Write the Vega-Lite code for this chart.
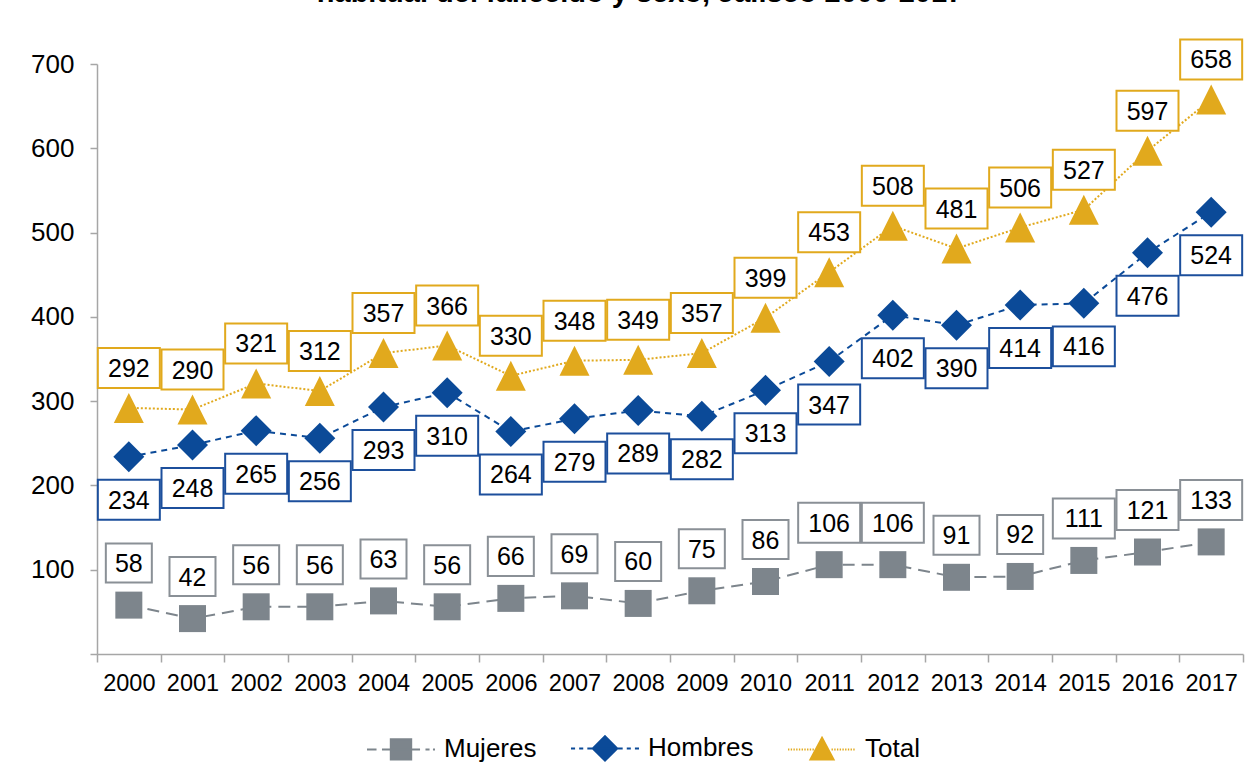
{
  "$schema": "https://vega.github.io/schema/vega-lite/v6.json",
  "width": 1146,
  "height": 590,
  "autosize": {"type": "none"},
  "padding": {"left": 97, "top": 64, "right": 13, "bottom": 127},
  "background": "white",
  "title": {
    "text": "habitual del fallecido y sexo, Jalisco 2000-2017",
    "frame": "group",
    "anchor": "middle",
    "baseline": "alphabetic",
    "offset": 31,
    "dx": -30,
    "dy": 27,
    "fontSize": 29,
    "fontWeight": "bold",
    "color": "black",
    "font": "Liberation Sans"
  },
  "config": {
    "font": "Liberation Sans",
    "view": {"stroke": null},
    "legend": {
      "orient": "none",
      "legendX": 269,
      "legendY": 649,
      "direction": "horizontal",
      "padding": 0,
      "symbolSize": 4624,
      "symbolStrokeWidth": 2,
      "symbolOpacity": 1,
      "labelFontSize": 26,
      "labelColor": "black",
      "labelOffset": 8,
      "columnPadding": 30,
      "labelLimit": 300
    }
  },
  "data": {
    "values": [
      {"year": "2000", "s": "Mujeres", "v": 58},
      {"year": "2001", "s": "Mujeres", "v": 42},
      {"year": "2002", "s": "Mujeres", "v": 56},
      {"year": "2003", "s": "Mujeres", "v": 56},
      {"year": "2004", "s": "Mujeres", "v": 63},
      {"year": "2005", "s": "Mujeres", "v": 56},
      {"year": "2006", "s": "Mujeres", "v": 66},
      {"year": "2007", "s": "Mujeres", "v": 69},
      {"year": "2008", "s": "Mujeres", "v": 60},
      {"year": "2009", "s": "Mujeres", "v": 75},
      {"year": "2010", "s": "Mujeres", "v": 86},
      {"year": "2011", "s": "Mujeres", "v": 106},
      {"year": "2012", "s": "Mujeres", "v": 106},
      {"year": "2013", "s": "Mujeres", "v": 91},
      {"year": "2014", "s": "Mujeres", "v": 92},
      {"year": "2015", "s": "Mujeres", "v": 111},
      {"year": "2016", "s": "Mujeres", "v": 121},
      {"year": "2017", "s": "Mujeres", "v": 133},
      {"year": "2000", "s": "Hombres", "v": 234},
      {"year": "2001", "s": "Hombres", "v": 248},
      {"year": "2002", "s": "Hombres", "v": 265},
      {"year": "2003", "s": "Hombres", "v": 256},
      {"year": "2004", "s": "Hombres", "v": 293},
      {"year": "2005", "s": "Hombres", "v": 310},
      {"year": "2006", "s": "Hombres", "v": 264},
      {"year": "2007", "s": "Hombres", "v": 279},
      {"year": "2008", "s": "Hombres", "v": 289},
      {"year": "2009", "s": "Hombres", "v": 282},
      {"year": "2010", "s": "Hombres", "v": 313},
      {"year": "2011", "s": "Hombres", "v": 347},
      {"year": "2012", "s": "Hombres", "v": 402},
      {"year": "2013", "s": "Hombres", "v": 390},
      {"year": "2014", "s": "Hombres", "v": 414},
      {"year": "2015", "s": "Hombres", "v": 416},
      {"year": "2016", "s": "Hombres", "v": 476},
      {"year": "2017", "s": "Hombres", "v": 524},
      {"year": "2000", "s": "Total", "v": 292},
      {"year": "2001", "s": "Total", "v": 290},
      {"year": "2002", "s": "Total", "v": 321},
      {"year": "2003", "s": "Total", "v": 312},
      {"year": "2004", "s": "Total", "v": 357},
      {"year": "2005", "s": "Total", "v": 366},
      {"year": "2006", "s": "Total", "v": 330},
      {"year": "2007", "s": "Total", "v": 348},
      {"year": "2008", "s": "Total", "v": 349},
      {"year": "2009", "s": "Total", "v": 357},
      {"year": "2010", "s": "Total", "v": 399},
      {"year": "2011", "s": "Total", "v": 453},
      {"year": "2012", "s": "Total", "v": 508},
      {"year": "2013", "s": "Total", "v": 481},
      {"year": "2014", "s": "Total", "v": 506},
      {"year": "2015", "s": "Total", "v": 527},
      {"year": "2016", "s": "Total", "v": 597},
      {"year": "2017", "s": "Total", "v": 658}
    ]
  },
  "encoding": {
    "x": {
      "field": "year",
      "type": "ordinal",
      "scale": {"type": "band", "paddingInner": 0, "paddingOuter": 0},
      "axis": {
        "title": null,
        "labelAngle": 0,
        "labelFontSize": 23.5,
        "labelColor": "black",
        "labelPadding": 9,
        "tickBand": "extent",
        "tickSize": 8,
        "tickColor": "#a6a6a6",
        "tickWidth": 1.5,
        "domainColor": "#a6a6a6",
        "domainWidth": 1.5
      }
    },
    "y": {
      "field": "v",
      "type": "quantitative",
      "scale": {"domain": [0, 700], "nice": false},
      "axis": {
        "title": null,
        "grid": false,
        "values": [0, 100, 200, 300, 400, 500, 600, 700],
        "labelExpr": "datum.value == 0 ? '' : datum.label",
        "labelFontSize": 26,
        "labelColor": "black",
        "labelPadding": 16,
        "tickSize": 7,
        "tickColor": "#a6a6a6",
        "tickWidth": 1.5,
        "domainColor": "#a6a6a6",
        "domainWidth": 1.5
      }
    }
  },
  "layer": [
    {
      "transform": [{"filter": "datum.s == 'Mujeres'"}],
      "mark": {"type": "line", "color": "#7d858c", "strokeWidth": 2, "strokeDash": [12, 7]}
    },
    {
      "transform": [{"filter": "datum.s == 'Hombres'"}],
      "mark": {"type": "line", "color": "#0b4a98", "strokeWidth": 2, "strokeDash": [6, 5]}
    },
    {
      "transform": [{"filter": "datum.s == 'Total'"}],
      "mark": {"type": "line", "color": "#e1a91d", "strokeWidth": 2, "strokeDash": [2, 2]}
    },
    {
      "transform": [{"filter": "datum.s == 'Mujeres'"}],
      "mark": {"type": "point", "shape": "square", "filled": true, "opacity": 1, "color": "#7d858c", "size": 729}
    },
    {
      "transform": [{"filter": "datum.s == 'Hombres'"}],
      "mark": {"type": "point", "shape": "diamond", "filled": true, "opacity": 1, "color": "#0b4a98", "size": 961}
    },
    {
      "transform": [{"filter": "datum.s == 'Total'"}],
      "mark": {"type": "point", "shape": "M0,-1L1,1L-1,1Z", "filled": true, "opacity": 1, "color": "#e1a91d", "size": 900}
    },
    {
      "transform": [{"filter": "datum.s == 'Mujeres'"}],
      "mark": {"type": "point", "filled": false, "opacity": 1, "fill": "white", "fillOpacity": 1, "stroke": "#8a9096", "strokeWidth": 2, "yOffset": -42},
      "encoding": {
        "shape": {"condition": {"test": "datum.v >= 100", "value": "M-1,-0.645H1V0.645H-1Z"}, "value": "M-1,-0.848H1V0.848H-1Z"},
        "size": {"condition": {"test": "datum.v >= 100", "value": 3844}, "value": 2116}
      }
    },
    {
      "transform": [{"filter": "datum.s == 'Hombres'"}],
      "mark": {"type": "point", "filled": false, "opacity": 1, "fill": "white", "fillOpacity": 1, "stroke": "#1c4f9c", "strokeWidth": 2, "yOffset": 43},
      "encoding": {
        "shape": {"condition": {"test": "datum.v >= 100", "value": "M-1,-0.645H1V0.645H-1Z"}, "value": "M-1,-0.848H1V0.848H-1Z"},
        "size": {"condition": {"test": "datum.v >= 100", "value": 3844}, "value": 2116}
      }
    },
    {
      "transform": [{"filter": "datum.s == 'Total'"}],
      "mark": {"type": "point", "filled": false, "opacity": 1, "fill": "white", "fillOpacity": 1, "stroke": "#e1a91d", "strokeWidth": 2, "yOffset": -40},
      "encoding": {
        "shape": {"condition": {"test": "datum.v >= 100", "value": "M-1,-0.645H1V0.645H-1Z"}, "value": "M-1,-0.848H1V0.848H-1Z"},
        "size": {"condition": {"test": "datum.v >= 100", "value": 3844}, "value": 2116}
      }
    },
    {
      "transform": [{"filter": "datum.s == 'Mujeres'"}],
      "mark": {"type": "text", "fontSize": 25, "color": "black", "baseline": "middle", "align": "center", "yOffset": -41},
      "encoding": {"text": {"field": "v", "type": "quantitative"}}
    },
    {
      "transform": [{"filter": "datum.s == 'Hombres'"}],
      "mark": {"type": "text", "fontSize": 25, "color": "black", "baseline": "middle", "align": "center", "yOffset": 44},
      "encoding": {"text": {"field": "v", "type": "quantitative"}}
    },
    {
      "transform": [{"filter": "datum.s == 'Total'"}],
      "mark": {"type": "text", "fontSize": 25, "color": "black", "baseline": "middle", "align": "center", "yOffset": -39},
      "encoding": {"text": {"field": "v", "type": "quantitative"}}
    },
    {
      "transform": [{"filter": "false"}],
      "mark": {"type": "point", "filled": true, "opacity": 1},
      "encoding": {
        "shape": {
          "field": "s",
          "type": "nominal",
          "scale": {
            "domain": ["Mujeres", "Hombres", "Total"],
            "range": [
              "M-1,0H-0.72M-0.56,0H0.56M0.72,0H0.84M0.94,0H1M-0.3,-0.3H0.3V0.3H-0.3Z",
              "M-1,0H-0.88M-0.76,0H-0.64M-0.52,0H0.52M0.64,0H0.76M0.88,0H1M0,-0.36L0.36,0L0,0.36L-0.36,0Z",
              "M-1,0h0.04M-0.92,0h0.04M-0.84,0h0.04M-0.76,0h0.04M-0.68,0h0.04M-0.6,0h0.04M-0.52,0h0.04M-0.44,0h0.04M-0.36,0h0.04M-0.28,0h0.04M0.28,0h0.04M0.36,0h0.04M0.44,0h0.04M0.52,0h0.04M0.6,0h0.04M0.68,0h0.04M0.76,0h0.04M0.84,0h0.04M0.92,0h0.04M0,-0.34L0.34,0.3L-0.34,0.3Z"
            ]
          },
          "legend": {"title": null}
        },
        "color": {
          "field": "s",
          "type": "nominal",
          "scale": {"domain": ["Mujeres", "Hombres", "Total"], "range": ["#7d858c", "#0b4a98", "#e1a91d"]},
          "legend": {"title": null}
        },
        "stroke": {
          "field": "s",
          "type": "nominal",
          "scale": {"domain": ["Mujeres", "Hombres", "Total"], "range": ["#7d858c", "#0b4a98", "#e1a91d"]},
          "legend": {"title": null}
        }
      }
    }
  ]
}
